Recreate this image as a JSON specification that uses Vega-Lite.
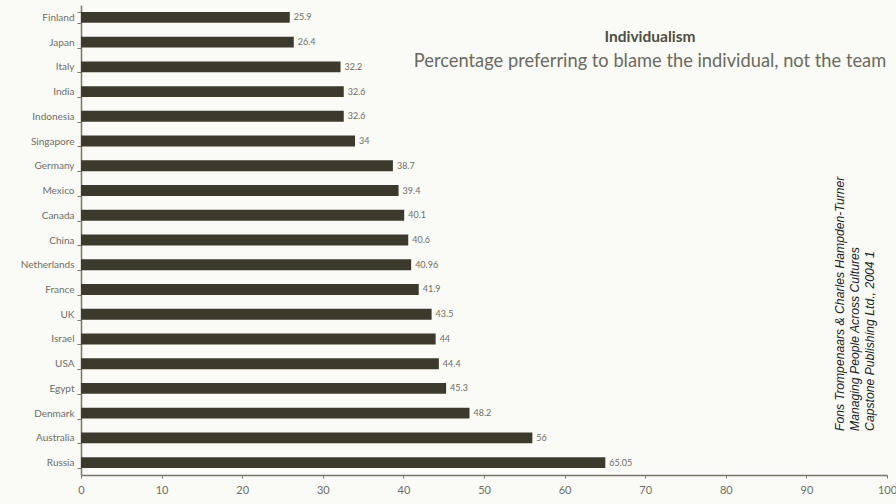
{
  "$schema": "https://vega.github.io/schema/vega-lite/v6.json",
  "autosize": "none",
  "width": 806,
  "height": 470,
  "padding": {"left": 81, "top": 5, "right": 9, "bottom": 29},
  "background": "#fafaf6",
  "title": {
    "text": "Individualism",
    "subtitle": "Percentage preferring to blame the individual, not the team",
    "anchor": "middle",
    "frame": "group",
    "orient": "top",
    "dx": 166,
    "offset": -70,
    "font": "Lato",
    "fontSize": 15.5,
    "fontWeight": "bold",
    "color": "#4e4e44",
    "subtitleFont": "Lato",
    "subtitleFontSize": 18.3,
    "subtitleColor": "#6a6a5e",
    "subtitlePadding": 7
  },
  "data": {
    "values": [
      {"country": "Finland", "value": 25.9, "label": "25.9"},
      {"country": "Japan", "value": 26.4, "label": "26.4"},
      {"country": "Italy", "value": 32.2, "label": "32.2"},
      {"country": "India", "value": 32.6, "label": "32.6"},
      {"country": "Indonesia", "value": 32.6, "label": "32.6"},
      {"country": "Singapore", "value": 34, "label": "34"},
      {"country": "Germany", "value": 38.7, "label": "38.7"},
      {"country": "Mexico", "value": 39.4, "label": "39.4"},
      {"country": "Canada", "value": 40.1, "label": "40.1"},
      {"country": "China", "value": 40.6, "label": "40.6"},
      {"country": "Netherlands", "value": 40.96, "label": "40.96"},
      {"country": "France", "value": 41.9, "label": "41.9"},
      {"country": "UK", "value": 43.5, "label": "43.5"},
      {"country": "Israel", "value": 44, "label": "44"},
      {"country": "USA", "value": 44.4, "label": "44.4"},
      {"country": "Egypt", "value": 45.3, "label": "45.3"},
      {"country": "Denmark", "value": 48.2, "label": "48.2"},
      {"country": "Australia", "value": 56, "label": "56"},
      {"country": "Russia", "value": 65.05, "label": "65.05"}
    ]
  },
  "encoding": {
    "y": {
      "field": "country",
      "type": "nominal",
      "sort": null,
      "scale": {"paddingInner": 0.56, "paddingOuter": 0.28},
      "axis": {
        "title": null,
        "domainColor": "#77776a",
        "domainWidth": 1.5,
        "tickColor": "#77776a",
        "tickSize": 4,
        "tickBand": "extent",
        "labelFont": "Lato",
        "labelFontSize": 10,
        "labelColor": "#6e6e66",
        "labelPadding": 3
      }
    }
  },
  "layer": [
    {
      "mark": {"type": "bar", "color": "#3b3a2c"},
      "encoding": {
        "x": {
          "field": "value",
          "type": "quantitative",
          "scale": {"domain": [0, 100], "nice": false},
          "axis": {
            "title": null,
            "values": [0, 10, 20, 30, 40, 50, 60, 70, 80, 90, 100],
            "grid": false,
            "domainColor": "#77776a",
            "domainWidth": 1.5,
            "tickColor": "#77776a",
            "tickSize": 3,
            "labelFont": "Lato",
            "labelFontSize": 11,
            "labelColor": "#6e6e66",
            "labelPadding": 6,
            "labelFlush": false
          }
        }
      }
    },
    {
      "mark": {"type": "text", "align": "left", "baseline": "middle", "dx": 4, "font": "Lato", "fontSize": 9, "color": "#6e6e66"},
      "encoding": {
        "x": {"field": "value", "type": "quantitative"},
        "text": {"field": "label"}
      }
    },
    {
      "data": {"values": [{"note": "citation"}]},
      "mark": {
        "type": "text",
        "text": ["Fons Trompenaars & Charles Hampden-Turner", "Managing People Across Cultures", "Capstone Publishing Ltd., 2004 1"],
        "angle": 270,
        "align": "left",
        "baseline": "top",
        "lineHeight": 15,
        "dx": 7,
        "font": "Liberation Sans",
        "fontStyle": "italic",
        "fontSize": 12.2,
        "color": "#222222"
      },
      "encoding": {
        "x": {"datum": 93.4, "type": "quantitative"},
        "y": {"datum": "Australia"}
      }
    }
  ],
  "config": {"view": {"stroke": null}}
}
